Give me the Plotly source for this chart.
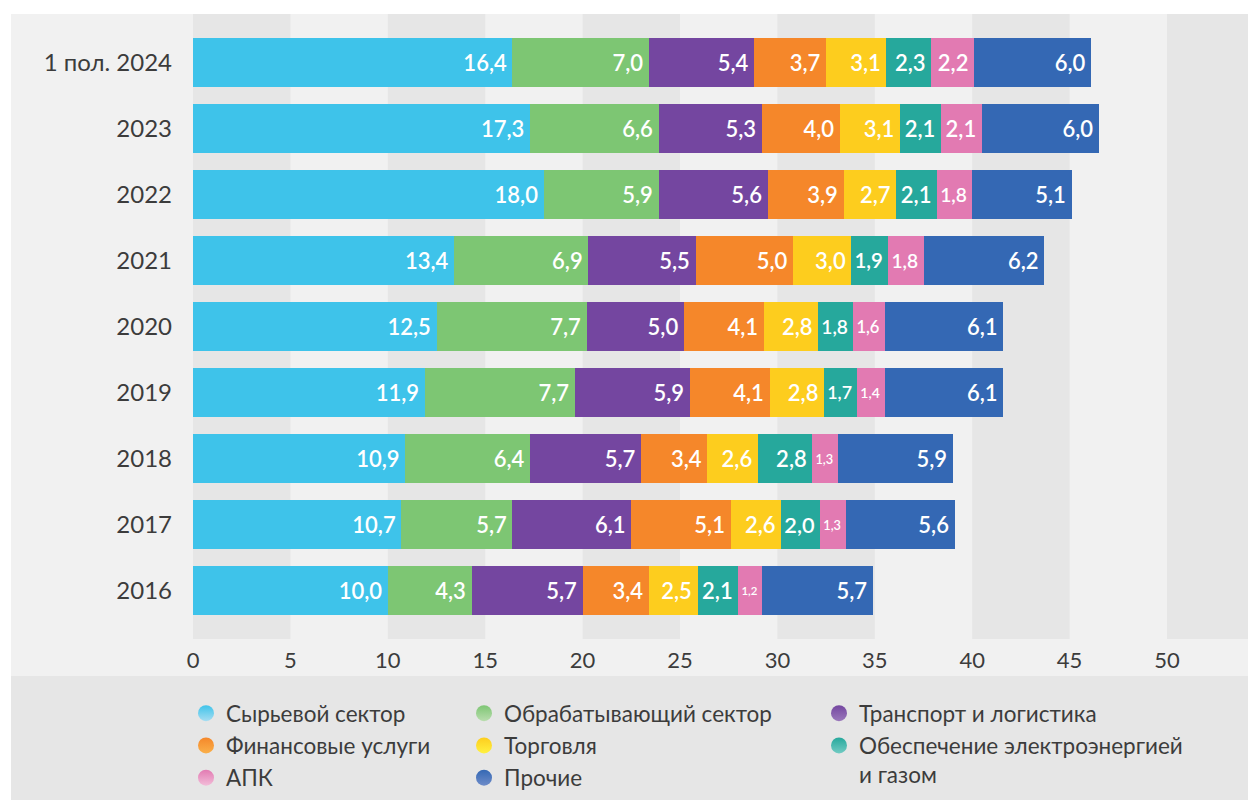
import plotly.graph_objects as go

# categories bottom -> top
years = ["2016", "2017", "2018", "2019", "2020", "2021", "2022", "2023", "1 пол. 2024"]

sectors = [
    "Сырьевой сектор",
    "Обрабатывающий сектор",
    "Транспорт и логистика",
    "Финансовые услуги",
    "Торговля",
    "Обеспечение электроэнергией<br>и газом",
    "АПК",
    "Прочие",
]

raw = [10.0, 10.7, 10.9, 11.9, 12.5, 13.4, 18.0, 17.3, 16.4]
manuf = [4.3, 5.7, 6.4, 7.7, 7.7, 6.9, 5.9, 6.6, 7.0]
transport = [5.7, 6.1, 5.7, 5.9, 5.0, 5.5, 5.6, 5.3, 5.4]
finance = [3.4, 5.1, 3.4, 4.1, 4.1, 5.0, 3.9, 4.0, 3.7]
trade = [2.5, 2.6, 2.6, 2.8, 2.8, 3.0, 2.7, 3.1, 3.1]
energy = [2.1, 2.0, 2.8, 1.7, 1.8, 1.9, 2.1, 2.1, 2.3]
agro = [1.2, 1.3, 1.3, 1.4, 1.6, 1.8, 1.8, 2.1, 2.2]
other = [5.7, 5.6, 5.9, 6.1, 6.1, 6.2, 5.1, 6.0, 6.0]

series = [raw, manuf, transport, finance, trade, energy, agro, other]

bar_colors = ["#3EC3EA", "#7DC673", "#7446A0", "#F5872A", "#FDCD1E", "#26A89C", "#E27AB2", "#3468B4"]
light_colors = ["#A6DDF2", "#B9DDAE", "#9A78BB", "#FAB04A", "#FFF140", "#72CBC3", "#F2BCD8", "#6E8CC9"]
legend_ids = ["legend", "legend2", "legend3", "legend", "legend2", "legend3", "legend", "legend2"]

tick_x = [0, 5, 10, 15, 20, 25, 30, 35, 40, 45, 50]

fig = go.Figure()

for name, vals, col in zip(sectors, series, bar_colors):
    fig.add_trace(go.Bar(
        y=years, x=vals, orientation="h", name=name,
        marker=dict(color=col, line=dict(width=0)),
        texttemplate="%{x:.1f}\u2009",
        textposition="inside", insidetextanchor="end",
        constraintext="inside", textangle=0,
        textfont=dict(family="Lato", size=22, color="white", weight=600),
        showlegend=False, hoverinfo="x+name",
    ))

# legend entries (circle markers)
for name, col, lc, lg in zip(sectors, bar_colors, light_colors, legend_ids):
    fig.add_trace(go.Scatter(
        x=[None], y=[None], mode="markers", name=name, legend=lg,
        marker=dict(symbol="circle", size=16, color=col,
                    gradient=dict(type="vertical", color=lc), line=dict(width=0)),
    ))

PLOT_L, PLOT_T, PLOT_B = 193, 14, 639
W, H = 1248, 800
pw, ph = W - PLOT_L, PLOT_B - PLOT_T

def px_x(px):
    return (px - PLOT_L) / pw

def px_y(py):
    return (PLOT_B - py) / ph

shapes = [
    dict(type="rect", xref="paper", yref="paper", x0=px_x(11), x1=1, y0=px_y(676), y1=1,
         fillcolor="#F1F1F1", line=dict(width=0), layer="below"),
    dict(type="rect", xref="paper", yref="paper", x0=px_x(11), x1=1, y0=px_y(800), y1=px_y(676),
         fillcolor="#E6E6E6", line=dict(width=0), layer="below"),
]
for s in range(0, 55, 10):
    shapes.append(dict(type="rect", xref="x", yref="paper", x0=s, x1=s + 5, y0=0, y1=1,
                       fillcolor="#E6E6E6", line=dict(width=0), layer="below"))

legend_common = dict(orientation="v", bgcolor="rgba(0,0,0,0)", xanchor="left", yanchor="top",
                     xref="container", yref="container", traceorder="normal",
                     font=dict(family="Lato", size=22.5, color="#3C3C3C"), y=1 - 692 / H,
                     itemclick=False, itemdoubleclick=False)

fig.update_layout(
    width=W, height=H,
    margin=dict(l=PLOT_L, r=0, t=PLOT_T, b=H - PLOT_B, pad=0, autoexpand=False),
    paper_bgcolor="white", plot_bgcolor="rgba(0,0,0,0)",
    barmode="stack", bargap=0.26,
    separators=", ",
    shapes=shapes,
    font=dict(family="Lato", color="#3C3C3C"),
    xaxis=dict(range=[0, (W - PLOT_L) / 19.48], tickvals=tick_x, showgrid=False, zeroline=False,
               showline=False, ticks="", ticklabelstandoff=6, automargin=False,
               tickfont=dict(family="Lato", size=22, color="#3C3C3C")),
    yaxis=dict(type="category", categoryorder="array", categoryarray=years,
               range=[-0.73, 8.73], showgrid=False, zeroline=False, showline=False,
               ticks="", ticklabelstandoff=20, automargin=False,
               tickfont=dict(family="Lato", size=24, color="#3C3C3C")),
    legend=dict(x=186 / W, **legend_common),
    legend2=dict(x=464 / W, **legend_common),
    legend3=dict(x=819 / W, valign="top", **legend_common),
)

fig.write_html("out.html", config={"displayModeBar": False},
               post_script="document.body.style.margin='0px'; document.body.style.overflow='hidden';")
